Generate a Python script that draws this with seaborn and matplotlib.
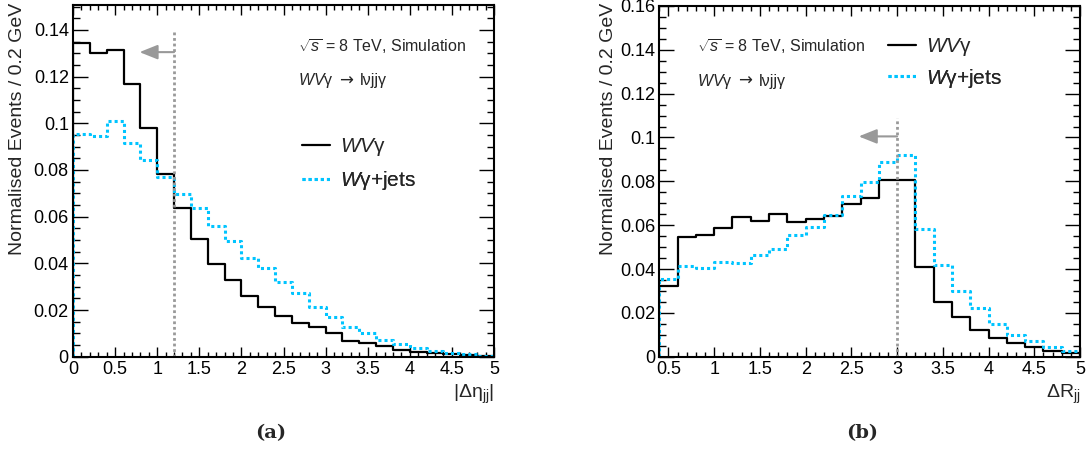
import numpy as np
import pandas as pd
import matplotlib
matplotlib.use("Agg")
import matplotlib.pyplot as plt
from matplotlib.ticker import MultipleLocator, FuncFormatter
from matplotlib.lines import Line2D
import seaborn as sns

# ---------------------------------------------------------------------------
# Normalised distributions, 0.2-wide bins
# ---------------------------------------------------------------------------
# |Delta eta_jj| : bins from 0 to 5
deta_edges = np.round(np.arange(0.0, 5.0 + 1e-9, 0.2), 1)
deta_wvg = [0.1343, 0.1300, 0.1312, 0.1167, 0.0982, 0.0783, 0.0637, 0.0504, 0.0397, 0.0329,
            0.0260, 0.0212, 0.0175, 0.0146, 0.0127, 0.0100, 0.0069, 0.0060, 0.0047, 0.0029,
            0.0020, 0.0014, 0.0010, 0.0006, 0.0003]
deta_wgjets = [0.0953, 0.0945, 0.1009, 0.0915, 0.0843, 0.0769, 0.0695, 0.0637, 0.0562, 0.0497,
               0.0422, 0.0379, 0.0321, 0.0274, 0.0212, 0.0171, 0.0129, 0.0100, 0.0072, 0.0054,
               0.0039, 0.0026, 0.0017, 0.0010, 0.0004]
deta_cut = 1.2          # selection: |Delta eta_jj| < 1.2
deta_cut_top = 0.139
deta_arrow_y = 0.1305
deta_arrow_to = 0.79

# Delta R_jj : bins from 0.4 to 5
dr_edges = np.round(np.arange(0.4, 5.0 + 1e-9, 0.2), 1)
dr_wvg = [0.0321, 0.0547, 0.0557, 0.0588, 0.0638, 0.0620, 0.0650, 0.0614, 0.0629, 0.0641,
          0.0695, 0.0725, 0.0807, 0.0807, 0.0408, 0.0251, 0.0183, 0.0121, 0.0087, 0.0063,
          0.0046, 0.0028, 0.0015]
dr_wgjets = [0.0354, 0.0412, 0.0405, 0.0431, 0.0428, 0.0464, 0.0493, 0.0553, 0.0593, 0.0645,
             0.0731, 0.0799, 0.0890, 0.0919, 0.0583, 0.0419, 0.0298, 0.0222, 0.0148, 0.0099,
             0.0071, 0.0046, 0.0026]
dr_cut = 3.0            # selection: Delta R_jj < 3.0
dr_cut_top = 0.109
dr_arrow_y = 0.1005
dr_arrow_to = 2.58

series_labels = [r"$\mathit{WV}\mathrm{\gamma}$", r"$\mathit{W}\mathrm{\gamma}$+jets"]
sim_text = r"$\sqrt{s}$ = 8 TeV, Simulation"
proc_parts = [r"$\mathit{WV}\mathrm{\gamma}$", "→", "lνjjγ"]
ylabel_text = "Normalised Events / 0.2 GeV"
xlabels = [r"$|\Delta\mathrm{\eta}_{\mathrm{jj}}|$", r"$\Delta\mathrm{R}_{\mathrm{jj}}$"]
captions = ["(a)", "(b)"]

# ---------------------------------------------------------------------------
sns.set_style("ticks")
plt.rcParams["font.family"] = ["Liberation Sans", "DejaVu Sans"]
plt.rcParams["mathtext.fontset"] = "custom"
plt.rcParams["mathtext.rm"] = "Liberation Sans"
plt.rcParams["mathtext.it"] = "Liberation Sans:italic"
plt.rcParams["mathtext.bf"] = "Liberation Sans:bold"

BLACK = "#000000"
CYAN = "#00C4FF"
GREY = "#999999"
DOTS = (0, (1, 1))


def outline(edges, values):
    """Closed histogram outline (drops to zero at both ends), drawn steps-post.
    x: e0, e0..en, en     y: 0, v0..v(n-1), v(n-1), 0
    """
    x = np.concatenate([[edges[0]], edges, [edges[-1]]])
    y = np.concatenate([[0.0], values, [values[-1]], [0.0]])
    return pd.DataFrame({"x": x, "y": y})


fig = plt.figure(figsize=(10.86, 4.53), dpi=100)
ax_a = fig.add_axes([0.0672, 0.2126, 0.3877, 0.7764])
ax_b = fig.add_axes([0.6071, 0.2126, 0.3874, 0.7742])


def draw_panel(ax, edges, wvg, wgj, xlim, ylim, cut, cut_top, arr_y, arr_to):
    d1 = outline(edges, np.asarray(wvg))
    d2 = outline(edges, np.asarray(wgj))
    sns.lineplot(data=d1, x="x", y="y", ax=ax, estimator=None, sort=False,
                 drawstyle="steps-post", color=BLACK, linewidth=1.6, legend=False)
    sns.lineplot(data=d2, x="x", y="y", ax=ax, estimator=None, sort=False,
                 drawstyle="steps-post", color=CYAN, linewidth=2.2,
                 linestyle=DOTS, legend=False)
    # selection cut line and arrow
    ax.plot([cut, cut], [0, cut_top], color=GREY, lw=2.0, ls=DOTS)
    ax.annotate("", xy=(arr_to, arr_y), xytext=(cut, arr_y),
                arrowprops=dict(arrowstyle="-|>,head_length=0.5,head_width=0.2",
                                color=GREY, lw=1.5, mutation_scale=22,
                                shrinkA=0, shrinkB=0))
    ax.set_xlim(*xlim)
    ax.set_ylim(*ylim)
    ax.set_xlabel("")
    ax.set_ylabel("")
    ax.xaxis.set_major_locator(MultipleLocator(0.5))
    ax.xaxis.set_minor_locator(MultipleLocator(0.1))
    ax.yaxis.set_major_locator(MultipleLocator(0.02))
    ax.yaxis.set_minor_locator(MultipleLocator(0.005))
    fmt = FuncFormatter(lambda v, p: f"{v:g}")
    ax.xaxis.set_major_formatter(fmt)
    ax.yaxis.set_major_formatter(fmt)
    ax.tick_params(which="both", direction="in", top=True, right=True,
                   labelsize=13, width=1, color="black", labelcolor="black")
    ax.tick_params(axis="x", which="major", length=7.5, pad=3)
    ax.tick_params(axis="x", which="minor", length=3.8)
    ax.tick_params(axis="y", which="major", length=10.5, pad=3)
    ax.tick_params(axis="y", which="minor", length=5)
    for s in ax.spines.values():
        s.set_linewidth(1.5)
        s.set_color("black")
    ax.set_facecolor("white")


def process_label(ax, x, y):
    """'WVγ → lνjjγ' written as three adjoining pieces."""
    t1 = ax.text(x, y, proc_parts[0], transform=ax.transAxes, ha="left",
                 va="center", fontsize=11.5)
    t2 = ax.annotate(proc_parts[1], xy=(1.0, 0.5), xycoords=t1, xytext=(4, 0),
                     textcoords="offset points", ha="left", va="center",
                     fontsize=12, family="DejaVu Sans")
    ax.annotate(proc_parts[2], xy=(1.0, 0.5), xycoords=t2, xytext=(5, 0),
                textcoords="offset points", ha="left", va="center", fontsize=11.5)


draw_panel(ax_a, deta_edges, deta_wvg, deta_wgjets, (0, 5), (0, 0.1507),
           deta_cut, deta_cut_top, deta_arrow_y, deta_arrow_to)
draw_panel(ax_b, dr_edges, dr_wvg, dr_wgjets, (0.4, 5), (0, 0.16),
           dr_cut, dr_cut_top, dr_arrow_y, dr_arrow_to)

# y-axis titles (right-aligned at the top, ROOT style)
fig.text(0.016, 0.995, ylabel_text, rotation=90, ha="center", va="top", fontsize=14)
fig.text(0.560, 0.995, ylabel_text, rotation=90, ha="center", va="top", fontsize=14)

# x-axis titles at the right end
ax_a.text(1.0, -0.075, xlabels[0], transform=ax_a.transAxes, ha="right", va="top", fontsize=14)
ax_b.text(1.0, -0.075, xlabels[1], transform=ax_b.transAxes, ha="right", va="top", fontsize=14)

# annotations
ax_a.text(0.534, 0.881, sim_text, transform=ax_a.transAxes, ha="left", va="center", fontsize=11.5)
process_label(ax_a, 0.534, 0.784)
ax_b.text(0.0896, 0.883, sim_text, transform=ax_b.transAxes, ha="left", va="center", fontsize=11.5)
process_label(ax_b, 0.0896, 0.786)

# legends: one entry per row, each row placed at its own height
handles = [Line2D([], [], color=BLACK, lw=1.6),
           Line2D([], [], color=CYAN, lw=2.2, ls=DOTS)]
for ax, rows in [(ax_a, (0.596, 0.500)), (ax_b, (0.883, 0.794))]:
    for h, lab, yc in zip(handles, series_labels, rows):
        leg = ax.legend([h], [lab], loc="center left", bbox_to_anchor=(0.544, yc),
                        frameon=False, fontsize=15, handlelength=1.35,
                        handletextpad=0.45, borderpad=0, borderaxespad=0)
        ax.add_artist(leg)

# panel captions
fig.text(271 / 1086, 1 - 433 / 453, captions[0], ha="center", va="center",
         fontsize=14, fontweight="bold", family="DejaVu Serif")
fig.text(862 / 1086, 1 - 433 / 453, captions[1], ha="center", va="center",
         fontsize=14, fontweight="bold", family="DejaVu Serif")

fig.savefig("out.png", dpi=100, facecolor="white")
